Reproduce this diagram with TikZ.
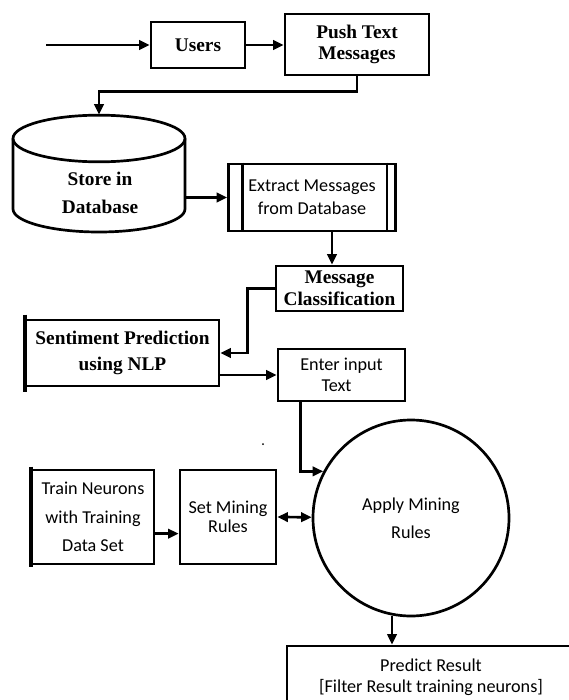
\documentclass[tikz,border=0pt]{standalone}
\usepackage{fontspec}
\setmainfont{Liberation Serif}
\newfontfamily\calfont{Carlito}
\usetikzlibrary{arrows.meta}

\begin{document}
\begin{tikzpicture}[x=0.03cm,y=-0.03cm,
  every node/.style={inner sep=0pt,align=center},
  box/.style={draw,line width=2.3pt,rectangle},
  serif/.style={font=\fontsize{16.5}{17.5}\selectfont\bfseries},
  sans/.style={font=\calfont\fontsize{15.5}{17.5}\selectfont},
  arr/.style={line width=2.3pt,-{Triangle[length=9pt,width=8pt]}}]
  \useasboundingbox (0,0) rectangle (569,700);
  \clip (0,0) rectangle (569,700);
  % 上部流程
  \node[box,serif,minimum width=2.82cm,minimum height=1.38cm] (users) at (198,45) {Users};
  \node[box,serif,minimum width=4.32cm,minimum height=1.83cm] (push) at (357,44.5) {Push Text\\Messages};
  \coordinate (in) at (46,45);
  % 数据库
  \node[minimum width=5.16cm,minimum height=3.51cm] (db) at (99,173.5) {};
  \draw[line width=2.3pt] (99,138.5) ellipse[x radius=2.58cm,y radius=0.70cm];
  \draw[line width=2.3pt] (13,138.5) -- (13,209)
    arc[start angle=180,end angle=360,x radius=2.58cm,y radius=0.69cm] -- (185,138.5);
  \node[serif] (dbtext) at (100,193) {Store in\\[7pt]Database};
  \node[box,sans,minimum width=5.01cm,minimum height=2.01cm] (extract) at (312,197.5) {Extract Messages\\[2pt]from Database};
  \draw[line width=2.3pt] ([xshift=0.45cm]extract.north west) -- ([xshift=0.45cm]extract.south west);
  \draw[line width=2.3pt] ([xshift=-0.3cm]extract.north east) -- ([xshift=-0.3cm]extract.south east);
  % 分类与预测
  \node[box,serif,minimum width=3.81cm,minimum height=1.35cm] (msg) at (339.5,288.5) {Message\\[1pt]Classification};
  \node[box,serif,minimum width=5.79cm,minimum height=1.98cm] (sent) at (122.5,353) {Sentiment Prediction\\[4pt]using NLP};
  \draw[line width=3.5pt] ([yshift=0.12cm]sent.north west) -- ([yshift=-0.15cm]sent.south west);
  \node[box,sans,minimum width=3.81cm,minimum height=1.56cm] (enter) at (341.5,375) {Enter input\\Text\hspace*{0.3cm}};
  % 挖掘规则
  \node[draw,circle,line width=2.3pt,sans,minimum size=5.88cm] (apply) at (411,518) {Apply Mining\\[6pt]Rules};
  \node[box,sans,minimum width=3.66cm,minimum height=2.82cm] (train) at (93,517) {Train Neurons\\[7pt]with Training\\[7pt]Data Set};
  \draw[line width=3.5pt] ([yshift=0.06cm]train.north west) -- ([yshift=-0.06cm]train.south west);
  \node[box,sans,minimum width=2.88cm,minimum height=2.82cm] (set) at (228,517) {Set Mining\\[-1.5pt]Rules};
  \node[box,sans,minimum width=8.64cm,minimum height=1.86cm] (predict) at (431,677) {Predict Result\\{[Filter Result training neurons]}};
  \fill (263,444) circle[radius=0.03cm];
  % 连线
  \draw[arr] (in) -- (users.west);
  \draw[arr] (users.east) -- (users.east -| push.west);
  \draw[arr] (push.south) -- ++(0,15) -| (db.north);
  \draw[arr] (extract.west -| db.east) -- (extract.west);
  \draw[arr] ([xshift=0.6cm]extract.south) -- ([xshift=0.6cm]extract.south |- msg.north);
  \draw[arr] (msg.west) -- ++(-27,0) |- (sent.east);
  \draw[arr] (enter.west -| sent.east) -- (enter.west);
  \draw[arr] ([xshift=0.72cm]enter.south west) |- (apply.152);
  \draw[arr] ([yshift=-0.5cm]train.east) -- ([yshift=-0.5cm]train.east -| set.west);
  \draw[line width=2.3pt,{Triangle[length=9pt,width=8pt]}-{Triangle[length=9pt,width=8pt]}] (set.east) -- (apply);
  \draw[arr] (apply.259) -- (apply.259 |- predict.north);
\end{tikzpicture}
\end{document}
